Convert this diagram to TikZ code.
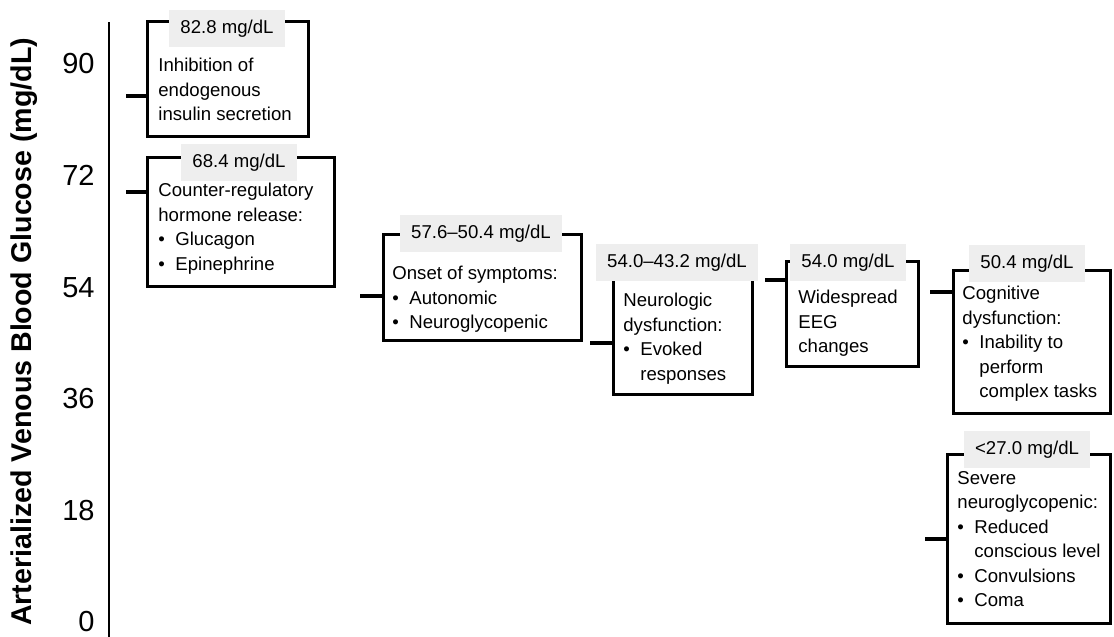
\documentclass[tikz,border=0pt]{standalone}
\usepackage{fontspec}
\setmainfont{Liberation Sans}
\tikzstyle{glucoseChart} = [x = 0.5pt, y = -0.5pt]
\definecolor{screenGray}{RGB}{238,238,238}
\tikzstyle{axisLine} = [color=black, line width=1.3pt]
\tikzstyle{stubLine} = [color=black, line width=1.9pt]
\tikzstyle{axisTitle} = [font=\fontsize{14.3}{16}\selectfont\bfseries, rotate=90, anchor=base, inner sep=0pt]
\tikzstyle{tickText} = [font=\fontsize{14.5}{16}\selectfont, anchor=east, inner sep=0pt]
\tikzstyle{stageFrame} = [draw=black, line width=1.5pt, anchor=north west, inner sep=0pt]
\tikzstyle{stageLabelStyle} = [fill=screenGray, font=\fontsize{9.3}{12.25}\selectfont, anchor=base, inner xsep=5.5pt, inner ysep=5pt]
\tikzstyle{stageTextStyle} = [font=\fontsize{9.3}{12.25}\selectfont, align=left, anchor=north west, inner sep=0pt]
\newcommand{\bulletItem}{\makebox[8.5pt][l]{\textbullet}}
\newcommand{\hangIndent}{\hspace*{8.5pt}}
\newcommand{\stageBox}[5]{\node [stageFrame, minimum width={(#4 - #2) * 0.5pt}, minimum height={(#5 - #3) * 0.5pt}] (#1) at (#2, #3) {};}
\newcommand{\stageLabel}[4]{\node [stageLabelStyle] (#1) at (#2, #3) {#4};}
\newcommand{\stageText}[4]{\node [stageTextStyle] (#1) at (#2, #3) {#4};}
\newcommand{\stageStub}[4]{
  \coordinate (#1) at (#2, #3);
  \draw [stubLine] (#1) -- (#1 -| #4.west);
}
\begin{document}
\begin{tikzpicture}[glucoseChart]
  \useasboundingbox (0,0) rectangle (1114,637);
  % axis
  \node [axisTitle] (axisName) at (32,332) {Arterialized Venous Blood Glucose (mg/dL)};
  \coordinate (axisTop) at (109,22);
  \coordinate (axisBottom) at (109,637);
  \draw [axisLine] (axisTop) -- (axisBottom);
  \foreach \tickValue in {0,18,...,90} {
    \pgfmathsetmacro{\tickY}{622 - 6.2 * \tickValue}
    \node [tickText] (tick\tickValue) at (95,\tickY) {\tickValue};
  }

  % stages
  \stageBox{insulinBox}{146}{20}{307}{135}
  \stageLabel{insulinLabel}{227}{33}{82.8 mg/dL}
  \stageText{insulinText}{158}{58}{Inhibition of\\endogenous\\insulin secretion}
  \stageStub{insulinStub}{126}{96}{insulinBox}

  \stageBox{hormoneBox}{146}{156}{333}{285}
  \stageLabel{hormoneLabel}{239}{167}{68.4 mg/dL}
  \stageText{hormoneText}{158}{183}{Counter-regulatory\\hormone release:\\\bulletItem Glucagon\\\bulletItem Epinephrine}
  \stageStub{hormoneStub}{126}{192}{hormoneBox}

  \stageBox{symptomBox}{382}{233}{580}{339}
  \stageLabel{symptomLabel}{481}{238}{57.6--50.4 mg/dL}
  \stageText{symptomText}{392}{266}{Onset of symptoms:\\\bulletItem Autonomic\\\bulletItem Neuroglycopenic}
  \stageStub{symptomStub}{360}{296}{symptomBox}

  \stageBox{neuroBox}{612}{277}{751}{393}
  \stageLabel{neuroLabel}{677}{267}{54.0--43.2 mg/dL}
  \stageText{neuroText}{623}{293}{Neurologic\\dysfunction:\\\bulletItem Evoked\\\hangIndent responses}
  \stageStub{neuroStub}{590}{343}{neuroBox}

  \stageBox{eegBox}{785}{260}{917}{365}
  \stageLabel{eegLabel}{848}{267}{54.0 mg/dL}
  \stageText{eegText}{798}{290}{Widespread\\EEG\\changes}
  \stageStub{eegStub}{765}{280}{eegBox}

  \stageBox{cognitiveBox}{952}{269}{1109}{412}
  \stageLabel{cognitiveLabel}{1027}{268}{50.4 mg/dL}
  \stageText{cognitiveText}{962}{286}{Cognitive\\dysfunction:\\\bulletItem Inability to\\\hangIndent perform\\\hangIndent complex tasks}
  \stageStub{cognitiveStub}{930}{292}{cognitiveBox}

  \stageBox{severeBox}{946}{453}{1109}{622}
  \stageLabel{severeLabel}{1027}{454}{<27.0 mg/dL}
  \stageText{severeText}{957}{471}{Severe\\neuroglycopenic:\\\bulletItem Reduced\\\hangIndent conscious level\\\bulletItem Convulsions\\\bulletItem Coma}
  \stageStub{severeStub}{925}{539}{severeBox}
\end{tikzpicture}
\end{document}
